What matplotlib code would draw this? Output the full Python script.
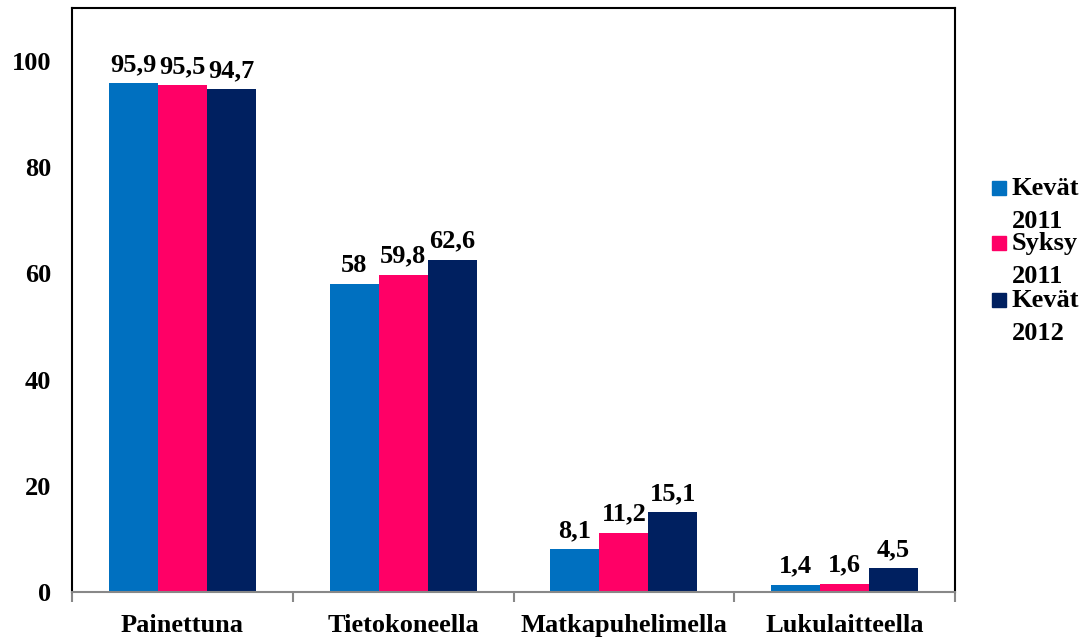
import matplotlib
matplotlib.use("Agg")
import matplotlib.pyplot as plt
import numpy as np
from matplotlib.patches import Rectangle

categories = ["Painettuna", "Tietokoneella", "Matkapuhelimella", "Lukulaitteella"]
series_names = ["Kevät\n2011", "Syksy\n2011", "Kevät\n2012"]
values = [
    [95.9, 58, 8.1, 1.4],
    [95.5, 59.8, 11.2, 1.6],
    [94.7, 62.6, 15.1, 4.5],
]
value_labels = [
    ["95,9", "58", "8,1", "1,4"],
    ["95,5", "59,8", "11,2", "1,6"],
    ["94,7", "62,6", "15,1", "4,5"],
]
colors = ["#0070C0", "#FF0066", "#002060"]
yticks = [0, 20, 40, 60, 80, 100]

plt.rcParams['font.family'] = ['Liberation Serif', 'DejaVu Serif']
plt.rcParams['font.weight'] = 'bold'
FS = 19

W, H = 1087, 639
fig = plt.figure(figsize=(W / 100, H / 100), dpi=100)
ax = fig.add_axes([72 / W, 1 - 592 / H, (955 - 72) / W, (592 - 8) / H])

x = np.arange(len(categories))
bw = 0.222
for i, (vals, labs) in enumerate(zip(values, value_labels)):
    pos = x + (i - 1) * bw
    ax.bar(pos, vals, width=bw, color=colors[i], edgecolor='none')
    for p, v, l in zip(pos, vals, labs):
        ax.annotate(l, (p, v), xytext=(0, 5), textcoords='offset points',
                    ha='center', va='bottom', fontsize=FS, fontweight='bold')

ax.set_xlim(-0.5, len(categories) - 0.5)
ax.set_ylim(0, 110)
ax.set_yticks(yticks)
ax.set_yticklabels([str(t) for t in yticks], fontsize=FS, fontweight='bold')
ax.tick_params(axis='y', length=0, pad=15)
ax.set_xticks(x)
ax.set_xticklabels(categories, fontsize=FS, fontweight='bold')
ax.set_xticks(np.arange(-0.5, len(categories), 1.0), minor=True)
ax.tick_params(axis='x', which='major', length=0, pad=16)
ax.tick_params(axis='x', which='minor', length=7, color='#888888', width=1.5, direction='out')

for s in ['left', 'right', 'top']:
    ax.spines[s].set_color('black')
    ax.spines[s].set_linewidth(1.5)
ax.spines['bottom'].set_color('#888888')
ax.spines['bottom'].set_linewidth(1.5)

# legend
sq_centers = [188, 243, 300]
for i, name in enumerate(series_names):
    yc = sq_centers[i]
    fig.patches.append(Rectangle((992 / W, 1 - (yc + 7) / H), 14 / W, 14 / H,
                                 transform=fig.transFigure, color=colors[i], figure=fig))
    fig.text(1012 / W, 1 - (yc - 11) / H, name, ha='left', va='top',
             fontsize=FS, fontweight='bold', linespacing=1.55)

fig.savefig("out.png", dpi=100)
